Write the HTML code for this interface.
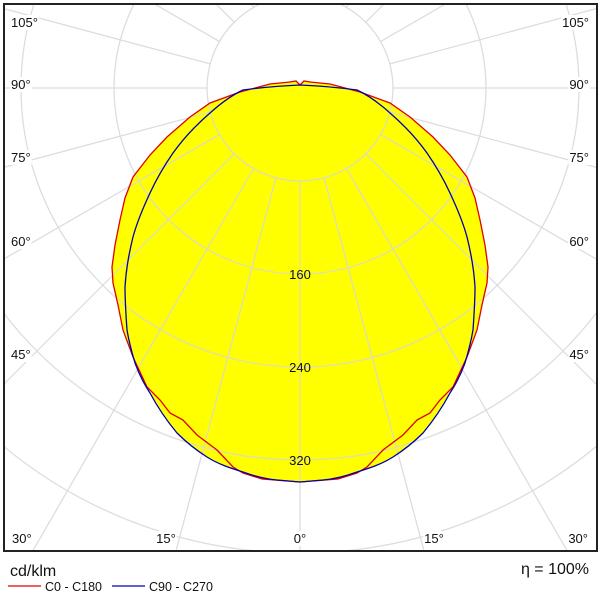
<!DOCTYPE html>
<html><head><style>
html,body{margin:0;padding:0;background:#fff;width:600px;height:600px;overflow:hidden;}
svg{display:block;}
svg text{font-family:"Liberation Sans","DejaVu Sans",sans-serif;}
</style></head><body>
<svg width="600" height="600" xmlns="http://www.w3.org/2000/svg">
<defs><clipPath id="c"><rect x="4" y="4" width="593" height="547"/></clipPath></defs>
<rect width="600" height="600" fill="#fff"/>
<g clip-path="url(#c)">
<path fill="#ffff00" d="M300,85 L296,81 L290,82 L270,84 L240,92 L210,103 L190,117 L167,137 L150,155 L133,177 L125,198 L120,220 L115,245 L112,267 L113,283 L118,305 L123,330 L133,357 L147,387 L160,400 L170,413 L183,420 L197,435 L217,450 L233,467 L243,473 L262,479 L300,482 L338,479 L357,473 L367,467 L383,450 L403,435 L417,420 L430,413 L440,400 L453,387 L467,357 L477,330 L482,305 L487,283 L488,267 L485,245 L480,220 L475,198 L467,177 L450,155 L433,137 L410,117 L390,103 L360,92 L330,84 L310,82 L304,81 Z"/>
<path fill="#ffff00" d="M300,482 L277,480 C265,479 254,476 243,472 C230,468 218,464 207,457 C196,450 186,442 177,433 C167,421 158,408 150,393 L450,393 C442,408 433,421 423,433 C414,442 404,450 393,457 C382,464 370,468 357,472 C346,476 335,479 323,480 Z"/>
<g id="grid" stroke="#d8d8d8" stroke-width="1.3" fill="none" opacity="0.85"></g>
<path fill="none" stroke="#e00000" stroke-width="1.3" d="M300,85 L296,81 L290,82 L270,84 L240,92 L210,103 L190,117 L167,137 L150,155 L133,177 L125,198 L120,220 L115,245 L112,267 L113,283 L118,305 L123,330 L133,357 L147,387 L160,400 L170,413 L183,420 L197,435 L217,450 L233,467 L243,473 L262,479 L300,482 L338,479 L357,473 L367,467 L383,450 L403,435 L417,420 L430,413 L440,400 L453,387 L467,357 L477,330 L482,305 L487,283 L488,267 L485,245 L480,220 L475,198 L467,177 L450,155 L433,137 L410,117 L390,103 L360,92 L330,84 L310,82 L304,81 Z"/>
<path fill="none" stroke="#0000b0" stroke-width="1.3" d="M300,85 C275,86 258,88 243,90 C230,96 220,104 210,113 C195,126 183,139 173,153 C164,166 156,180 150,193 C143,208 137,222 133,237 C129,253 126,270 125,287 C125,302 126,316 127,330 C129,342 132,353 135,363 C139,374 144,384 150,393 C158,408 167,421 177,433 C186,442 196,450 207,457 C218,464 230,468 243,472 C254,476 265,479 277,480 L300,482 L323,480 C335,479 346,476 357,472 C370,468 382,464 393,457 C404,450 414,442 423,433 C433,421 442,408 450,393 C456,384 461,374 465,363 C468,353 471,342 473,330 C474,316 475,302 475,287 C474,270 471,253 467,237 C463,222 457,208 450,193 C444,180 436,166 427,153 C417,139 405,126 390,113 C380,104 370,96 357,90 C342,88 325,86 300,85 Z"/>
</g>
<rect x="4" y="4" width="593" height="547" fill="none" stroke="#222" stroke-width="2"/>
<g font-size="13" fill="#111" text-anchor="middle">
<text x="300" y="279">160</text>
<text x="300" y="372">240</text>
<text x="300" y="465">320</text>
</g>
<g id="lbl" font-size="13" fill="#111"></g>
<text x="10" y="576" font-size="16" fill="#111">cd/klm</text>
<line x1="8" y1="586" x2="41" y2="586" stroke="#e00000" stroke-width="1.3"/>
<text x="45" y="591" font-size="12.5" fill="#111">C0 - C180</text>
<line x1="112" y1="586" x2="145" y2="586" stroke="#0000b0" stroke-width="1.3"/>
<text x="149" y="591" font-size="12.5" fill="#111">C90 - C270</text>
<text x="589" y="574" font-size="16" fill="#111" text-anchor="end">η = 100%</text>
</svg>
<script>
const ns="http://www.w3.org/2000/svg",g=document.getElementById("grid"),cx=300,cy=88;
for(let k=1;k<=8;k++){const c=document.createElementNS(ns,"circle");c.setAttribute("cx",cx);c.setAttribute("cy",cy);c.setAttribute("r",93*k);g.appendChild(c);}
for(let a=-180;a<=180;a+=15){const t=a*Math.PI/180,dx=Math.sin(t),dy=Math.cos(t);
const l=document.createElementNS(ns,"line");l.setAttribute("x1",cx+93*dx);l.setAttribute("y1",cy+93*dy);l.setAttribute("x2",cx+900*dx);l.setAttribute("y2",cy+900*dy);g.appendChild(l);}
const L=document.getElementById("lbl");
function lab(x,y,s,anc){const t=document.createElementNS(ns,"text");t.setAttribute("x",x);t.setAttribute("y",y);t.setAttribute("text-anchor",anc||"start");t.textContent=s;
const bb=document.createElementNS(ns,"rect");L.appendChild(t);const b=t.getBBox();bb.setAttribute("x",b.x-1);bb.setAttribute("y",b.y);bb.setAttribute("width",b.width+2);bb.setAttribute("height",b.height);bb.setAttribute("fill","#fff");L.insertBefore(bb,t);}
[["105°",27],["90°",89],["75°",162],["60°",246],["45°",359]].forEach(([s,y])=>{lab(11,y,s);lab(589,y,s,"end");});
lab(12,543,"30°");lab(588,543,"30°","end");lab(166,543,"15°","middle");lab(434,543,"15°","middle");lab(300,543,"0°","middle");
</script>
</body></html>
